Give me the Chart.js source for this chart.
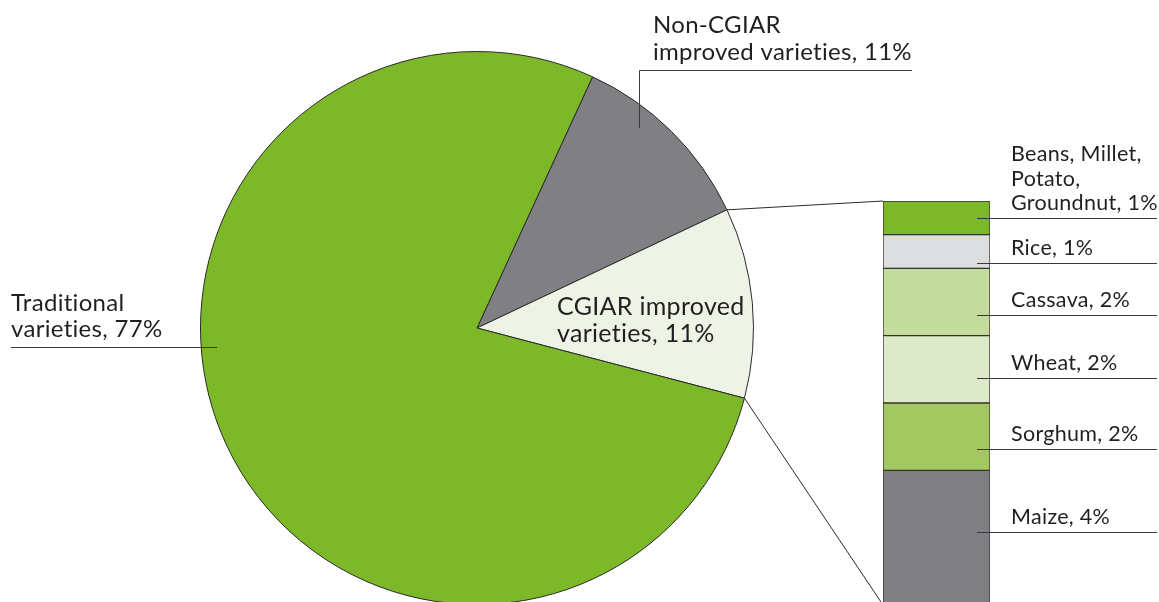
<!DOCTYPE html>
<html>
<head>
<meta charset="utf-8">
<script src="https://cdn.jsdelivr.net/npm/chart.js@4"></script>
<style>
  html, body { margin: 0; padding: 0; background: #fff; overflow: hidden; }
  #wrap { position: relative; width: 1159px; height: 602px; overflow: hidden; }
  canvas { position: absolute; left: 0; top: 0; }
</style>
</head>
<body>
<div id="wrap">
  <canvas id="pieChart" width="1159" height="660"></canvas>
  <canvas id="barChart" width="1159" height="660"></canvas>
</div>
<script>
// pie: share of area by variety type
const pieLabels = ['Non-CGIAR improved varieties', 'CGIAR improved varieties', 'Traditional varieties'];
const pieValues = [11, 11, 77];
const pieColors = ['#807f84', '#eef4e5', '#7db828'];

// stacked bar: CGIAR share broken down by crop (bottom to top)
const cropLabels = ['Maize', 'Sorghum', 'Wheat', 'Cassava', 'Rice', 'Beans, Millet, Potato, Groundnut'];
const cropValues = [4, 2, 2, 2, 1, 1];
const cropColors = ['#807f84', '#a3c862', '#dde9c9', '#c4dc9b', '#dcdddf', '#7db828'];

const textColor = '#231f20';
const fontFamily = 'Lato, "Open Sans", sans-serif';

const pieChart = new Chart(document.getElementById('pieChart'), {
  type: 'pie',
  data: {
    labels: pieLabels,
    datasets: [{
      data: pieValues,
      backgroundColor: pieColors,
      borderColor: '#2a2a2a',
      borderWidth: 1
    }]
  },
  options: {
    responsive: false,
    animation: false,
    rotation: 24.7,
    layout: { padding: { left: 200, right: 405, top: 51, bottom: 55 } },
    plugins: { legend: { display: false }, tooltip: { enabled: false } }
  }
});

// label text + leader lines, drawn on top canvas
const annotations = {
  id: 'annotations',
  afterDraw(chart) {
    const ctx = chart.ctx;
    const meta = chart.getDatasetMeta(0);
    const yScale = chart.scales.y;

    // connectors from the CGIAR slice to the bar
    const arc = pieChart.getDatasetMeta(0).data[1];
    const a = arc.getProps(['x', 'y', 'startAngle', 'endAngle', 'outerRadius'], true);
    const topBar = chart.getDatasetMeta(cropValues.length - 1).data[0];
    const barLeft = topBar.x - topBar.width / 2;
    ctx.save();
    ctx.strokeStyle = '#2a2a2a';
    ctx.lineWidth = 1;
    ctx.beginPath();
    ctx.moveTo(a.x + a.outerRadius * Math.cos(a.startAngle), a.y + a.outerRadius * Math.sin(a.startAngle));
    ctx.lineTo(barLeft, yScale.getPixelForValue(12));
    ctx.moveTo(a.x + a.outerRadius * Math.cos(a.endAngle), a.y + a.outerRadius * Math.sin(a.endAngle));
    ctx.lineTo(barLeft, yScale.getPixelForValue(0));
    ctx.stroke();

    // leader lines
    ctx.strokeStyle = '#3a3a3a';
    ctx.beginPath();
    // Non-CGIAR
    ctx.moveTo(639.5, 128); ctx.lineTo(639.5, 70.5); ctx.lineTo(912, 70.5);
    // Traditional
    ctx.moveTo(11, 347.5); ctx.lineTo(217, 347.5);
    // crop lines
    const cropLineY = [532, 449, 378, 315, 263, 218];
    cropLineY.forEach(y => { ctx.moveTo(977, y + 0.5); ctx.lineTo(1157, y + 0.5); });
    ctx.stroke();

    ctx.fillStyle = textColor;
    ctx.textBaseline = 'alphabetic';
    ctx.textAlign = 'left';
    ctx.letterSpacing = '0.3px';
    ctx.font = '24px ' + fontFamily;
    ctx.fillText('Non-CGIAR', 653, 33);
    ctx.fillText('improved varieties, ' + pieValues[0] + '%', 653, 60);
    ctx.fillText('Traditional', 11, 311);
    ctx.fillText('varieties, ' + pieValues[2] + '%', 11, 337);
    ctx.font = '25px ' + fontFamily;
    ctx.fillText('CGIAR improved', 557, 315);
    ctx.fillText('varieties, ' + pieValues[1] + '%', 557, 342);

    ctx.font = '21.5px ' + fontFamily;
    const cropText = [
      ['Maize, ' + cropValues[0] + '%'],
      ['Sorghum, ' + cropValues[1] + '%'],
      ['Wheat, ' + cropValues[2] + '%'],
      ['Cassava, ' + cropValues[3] + '%'],
      ['Rice, ' + cropValues[4] + '%'],
      ['Beans, Millet,', 'Potato,', 'Groundnut, ' + cropValues[5] + '%']
    ];
    cropText.forEach((lines, i) => {
      const base = cropLineY[i] - 8;
      lines.forEach((t, j) => {
        ctx.fillText(t, 1011, base - (lines.length - 1 - j) * 24.5);
      });
    });
    ctx.restore();
  }
};

new Chart(document.getElementById('barChart'), {
  type: 'bar',
  data: {
    labels: ['CGIAR improved varieties'],
    datasets: cropLabels.map((label, i) => ({
      label,
      data: [cropValues[i]],
      backgroundColor: cropColors[i],
      borderColor: '#333333',
      borderWidth: 1,
      borderSkipped: false,
      barPercentage: 1,
      categoryPercentage: 1
    }))
  },
  options: {
    responsive: false,
    animation: false,
    layout: { padding: { left: 883, right: 169, top: 201, bottom: 55 } },
    scales: {
      x: { stacked: true, display: false },
      y: { stacked: true, display: false, min: 0, max: 12 }
    },
    plugins: { legend: { display: false }, tooltip: { enabled: false } }
  },
  plugins: [annotations]
});
</script>
</body>
</html>
